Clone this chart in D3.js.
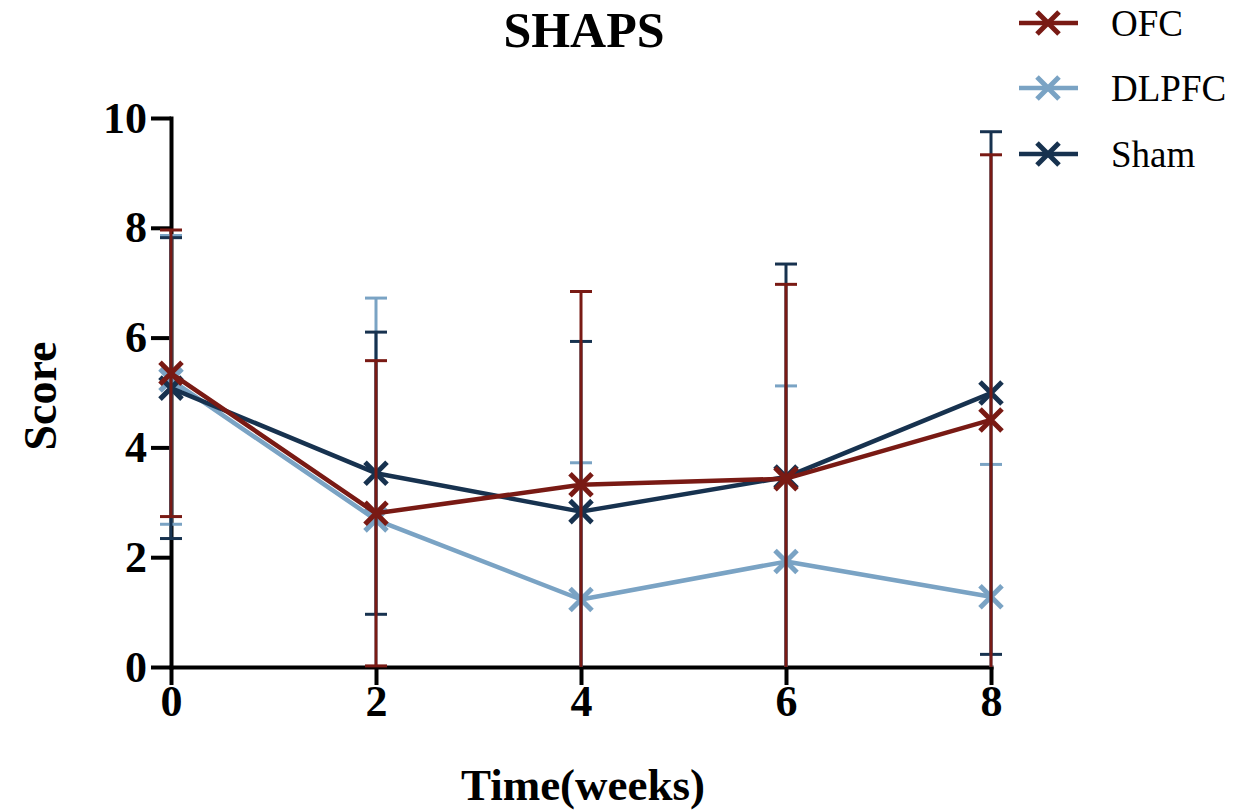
<!DOCTYPE html>
<html>
<head>
<meta charset="utf-8">
<script src="https://cdn.jsdelivr.net/npm/d3@7"></script>
<style>
  html, body { margin: 0; padding: 0; background: #fff; }
  svg text { font-family: "Liberation Serif", "Times New Roman", serif; }
</style>
</head>
<body>
<svg id="chart" width="1250" height="812"></svg>
<script>
// Time points (weeks) and axis ticks
const weeks = [0, 2, 4, 6, 8];
const yTicks = [0, 2, 4, 6, 8, 10];

// Group means and standard deviations
const ofcMean   = [5.35, 2.80, 3.32, 3.43, 4.50];
const ofcSD     = [2.61, 2.78, 3.52, 3.54, 4.83];
const dlpfcMean = [5.23, 2.68, 1.23, 1.92, 1.28];
const dlpfcSD   = [2.63, 4.04, 2.49, 3.20, 2.41];
const shamMean  = [5.08, 3.53, 2.83, 3.46, 4.99];
const shamSD    = [2.74, 2.57, 3.10, 3.88, 4.76];

const groupNames  = ["OFC", "DLPFC", "Sham"];
const groupColors = ["#791a14", "#7aa3c4", "#17324f"];

const series = [
  { name: groupNames[0], color: groupColors[0], mean: ofcMean,   sd: ofcSD },
  { name: groupNames[1], color: groupColors[1], mean: dlpfcMean, sd: dlpfcSD },
  { name: groupNames[2], color: groupColors[2], mean: shamMean,  sd: shamSD }
];

const svg = d3.select("#chart");
const x = d3.scaleLinear().domain([0, 8]).range([171, 991]);
const y = d3.scaleLinear().domain([0, 10]).range([667, 118]);
const serif = '"Liberation Serif", "Times New Roman", serif';

// Axes
const yAxis = svg.append("g")
  .attr("transform", `translate(${x(0)},0)`)
  .call(d3.axisLeft(y).tickValues(yTicks).tickFormat(d3.format("d"))
    .tickSize(20).tickSizeOuter(0).tickPadding(4));
const xAxis = svg.append("g")
  .attr("transform", `translate(0,${y(0)})`)
  .call(d3.axisBottom(x).tickValues(weeks).tickFormat(d3.format("d"))
    .tickSize(18).tickSizeOuter(0).tickPadding(0));

[yAxis, xAxis].forEach(g => {
  g.select(".domain").attr("stroke", "#000").attr("stroke-width", 4)
    .attr("stroke-linecap", "square");
  g.selectAll(".tick line").attr("stroke", "#000").attr("stroke-width", 4);
  g.selectAll(".tick text").attr("fill", "#000")
    .style("font-family", serif).style("font-weight", "bold").style("font-size", "44px");
});

// Error bars, lines and markers per group (DLPFC, Sham, then OFC on top)
const drawOrder = [1, 2, 0];
const capHalf = 11;
const mk = 11;

function xMarker(g, cx, cy, color, size, width) {
  g.append("path")
    .attr("d", `M${cx - size},${cy - size}L${cx + size},${cy + size}M${cx - size},${cy + size}L${cx + size},${cy - size}`)
    .attr("stroke", color).attr("stroke-width", width).attr("fill", "none");
}

drawOrder.forEach(i => {
  const s = series[i];
  const g = svg.append("g");
  const pts = weeks.map((w, k) => ({ w, m: s.mean[k], sd: s.sd[k] }));

  // error bars (clipped at the axis floor)
  pts.forEach(p => {
    const hi = p.m + p.sd;
    const lo = p.m - p.sd;
    const loDraw = Math.max(lo, 0);
    g.append("line")
      .attr("x1", x(p.w)).attr("x2", x(p.w))
      .attr("y1", y(hi)).attr("y2", y(loDraw))
      .attr("stroke", s.color).attr("stroke-width", 3);
    g.append("line")
      .attr("x1", x(p.w) - capHalf).attr("x2", x(p.w) + capHalf)
      .attr("y1", y(hi)).attr("y2", y(hi))
      .attr("stroke", s.color).attr("stroke-width", 3);
    if (lo >= 0) {
      g.append("line")
        .attr("x1", x(p.w) - capHalf).attr("x2", x(p.w) + capHalf)
        .attr("y1", y(lo)).attr("y2", y(lo))
        .attr("stroke", s.color).attr("stroke-width", 3);
    }
  });

  // mean line
  g.append("path")
    .datum(pts)
    .attr("d", d3.line().x(d => x(d.w)).y(d => y(d.m)))
    .attr("fill", "none").attr("stroke", s.color).attr("stroke-width", 4.5)
    .attr("stroke-linejoin", "round");

  // markers
  pts.forEach(p => xMarker(g, x(p.w), y(p.m), s.color, mk, 5));
});

// Title and axis titles
svg.append("text")
  .attr("x", 584).attr("y", 47).attr("text-anchor", "middle")
  .style("font-family", serif).style("font-weight", "bold").style("font-size", "50px")
  .text("SHAPS");

svg.append("text")
  .attr("x", 583).attr("y", 800).attr("text-anchor", "middle")
  .style("font-family", serif).style("font-weight", "bold").style("font-size", "45px")
  .text("Time(weeks)");

svg.append("text")
  .attr("transform", "translate(56,396) rotate(-90)")
  .attr("text-anchor", "middle")
  .style("font-family", serif).style("font-weight", "bold").style("font-size", "46px")
  .text("Score");

// Legend
const legendY = [23, 88, 154];
series.forEach((s, i) => {
  const g = svg.append("g");
  g.append("line")
    .attr("x1", 1019).attr("x2", 1078).attr("y1", legendY[i]).attr("y2", legendY[i])
    .attr("stroke", s.color).attr("stroke-width", 4.5);
  xMarker(g, 1048, legendY[i], s.color, 11, 5);
  g.append("text")
    .attr("x", 1111).attr("y", legendY[i]).attr("dy", "0.35em")
    .style("font-family", serif).style("font-size", "37px").attr("fill", "#000")
    .text(s.name);
});
</script>
</body>
</html>
